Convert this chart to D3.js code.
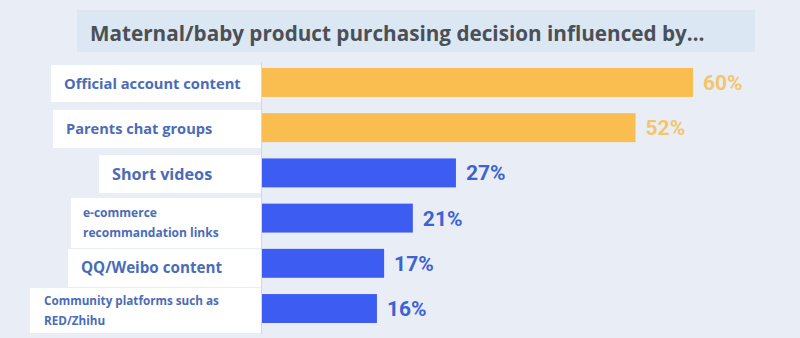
<!DOCTYPE html>
<html><head><meta charset="utf-8">
<script src="https://cdn.jsdelivr.net/npm/d3@7"></script>
<style>html,body{margin:0;padding:0;background:#e9eef6;}svg{display:block;}</style>
</head><body>
<svg id="chart" width="800" height="338"></svg>
<script>
const title = "Maternal/baby product purchasing decision influenced by…";
const categories = ["Official account content", "Parents chat groups", "Short videos",
  "e-commerce\nrecommandation links", "QQ/Weibo content", "Community platforms such as\nRED/Zhihu"];
const values = [60, 52, 27, 21, 17, 16];
const highlighted = [true, true, false, false, false, false];

// label box layout (styling, not data)
const boxLayout = [
  {x0: 51, top: 65, bottom: 102, fs: 14.7, tx: 64},
  {x0: 53, top: 110, bottom: 148, fs: 14.6, tx: 66},
  {x0: 99, top: 155, bottom: 193, fs: 16.2, tx: 112},
  {x0: 71, top: 198, bottom: 248, fs: 12, tx: 83},
  {x0: 68, top: 249, bottom: 287, fs: 15.2, tx: 81},
  {x0: 30, top: 288, bottom: 333, fs: 11.7, tx: 44}
];

const svg = d3.select("#chart");
svg.append("rect").attr("width", 800).attr("height", 338).attr("fill", "#e9eef6");

// title box
svg.append("rect").attr("x", 77).attr("y", 10).attr("width", 678).attr("height", 42).attr("fill", "#dce7f4");
svg.append("text").attr("x", 90).attr("y", 40.5).text(title)
  .attr("font-family", "'Open Sans', sans-serif").attr("font-weight", 700)
  .attr("font-size", 20.7).attr("fill", "#4b5056");

const x = d3.scaleLinear().domain([0, 60]).range([262, 693]);
const y = d3.scaleBand().domain(categories).range([68, 323]).paddingInner(0.36).paddingOuter(0);

const orange = "#f9bd50", blue = "#3d5cf2";

// label boxes
const lg = svg.append("g");
categories.forEach((c, i) => {
  const b = boxLayout[i];
  lg.append("rect").attr("x", b.x0).attr("y", b.top).attr("width", 261 - b.x0).attr("height", b.bottom - b.top)
    .attr("fill", "#ffffff");
});
svg.append("line").attr("x1", 261.5).attr("x2", 261.5).attr("y1", 62).attr("y2", 334)
  .attr("stroke", "#d4d8de").attr("stroke-width", 1);
categories.forEach((c, i) => {
  const b = boxLayout[i];
  const lines = c.split("\n");
  const cy = (b.top + b.bottom) / 2;
  const lh = 20;
  const t = lg.append("text").attr("font-family", "'Open Sans', sans-serif").attr("font-weight", 700)
    .attr("font-size", b.fs).attr("fill", "#4a6cb8");
  lines.forEach((l, j) => {
    t.append("tspan").attr("x", b.tx)
      .attr("y", cy + (j - (lines.length - 1) / 2) * lh).attr("dy", "0.35em").text(l);
  });
});

// bars
svg.append("g").selectAll("rect").data(values).join("rect")
  .attr("x", x(0)).attr("y", (d, i) => y(categories[i]))
  .attr("width", d => x(d) - x(0)).attr("height", y.bandwidth())
  .attr("fill", (d, i) => highlighted[i] ? orange : blue);

// value labels
svg.append("g").selectAll("text").data(values).join("text")
  .attr("x", d => x(d) + 10).attr("y", (d, i) => y(categories[i]) + y.bandwidth() / 2)
  .attr("dy", "0.36em").text(d => d + "%")
  .attr("font-family", "Roboto, sans-serif").attr("font-weight", 700).attr("font-size", 21)
  .attr("fill", (d, i) => highlighted[i] ? "#f3c56c" : "#3f62d2");
</script>
</body></html>
